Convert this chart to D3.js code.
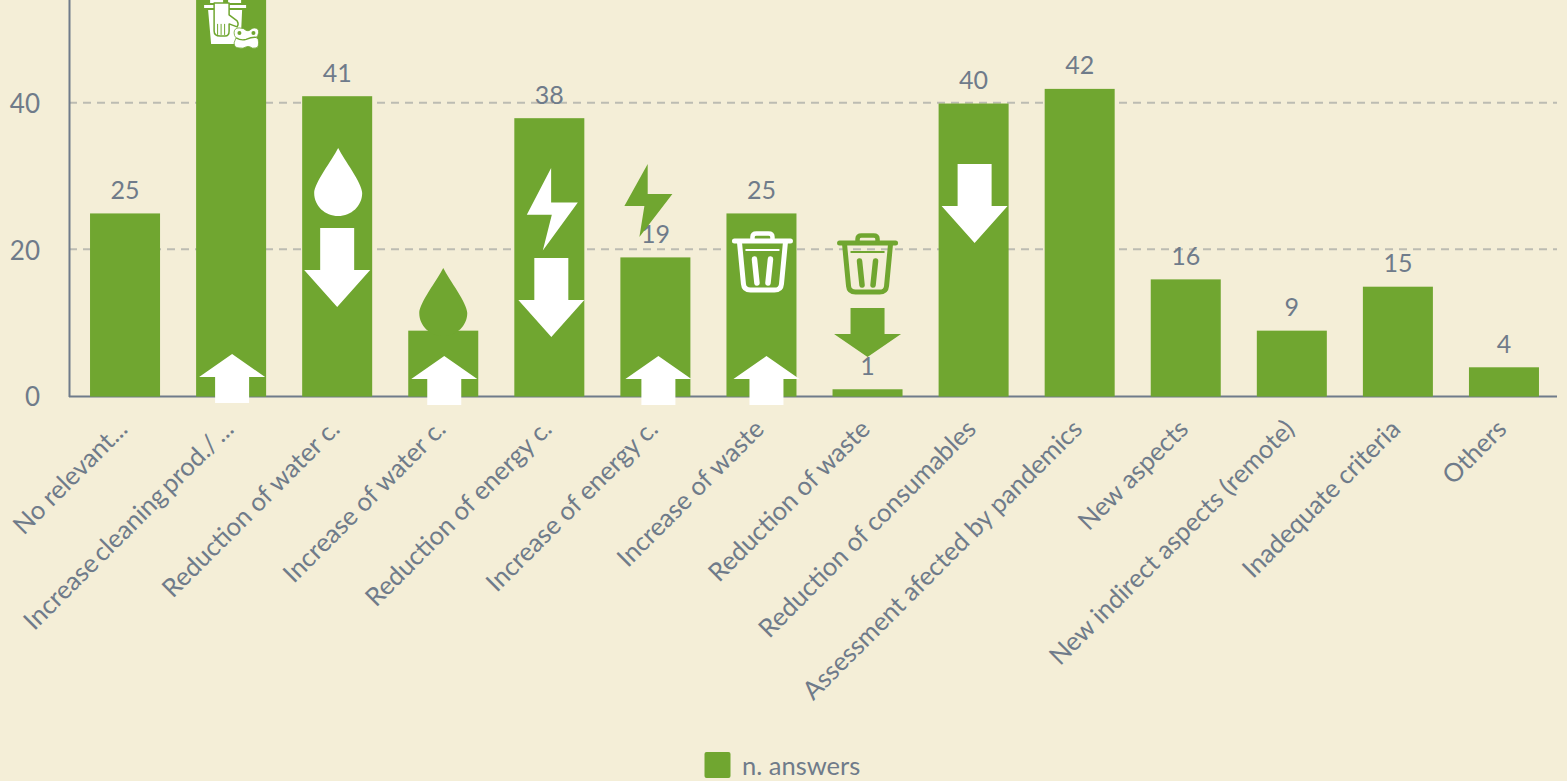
<!DOCTYPE html>
<html>
<head>
<meta charset="utf-8">
<script src="https://cdn.jsdelivr.net/npm/d3@7"></script>
<style>
html,body{margin:0;padding:0;background:#f4eed7;overflow:hidden}
svg{display:block}
text{font-family:Lato,sans-serif}
</style>
</head>
<body>
<script>
const categories = ["No relevant...","Increase cleaning prod./ ...","Reduction of water c.","Increase of water c.","Reduction of energy c.","Increase of energy c.","Increase of waste","Reduction of waste","Reduction of consumables","Assessment afected by pandemics","New aspects","New indirect aspects (remote)","Inadequate criteria","Others"];
const answers = [25,58,41,9,38,19,25,1,40,42,16,9,15,4];
const yTicks = [0,20,40];
const seriesName = "n. answers";

const W=1567,H=781, GREEN="#70a630", WHITE="#ffffff", SLATE="#6f7b8a", BG="#f4eed7";
const svg=d3.select("body").append("svg").attr("width",W).attr("height",H);
svg.append("rect").attr("width",W).attr("height",H).attr("fill",BG);

const x=d3.scaleBand().domain(categories).range([72,1557]).paddingInner(0.34).paddingOuter(0.17);
const y=d3.scaleLinear().domain([0,60]).range([396.6,-43]);
const cx=c=>x(c)+x.bandwidth()/2;

// grid
svg.append("g").attr("transform","translate(0,-0.8)").selectAll("line").data(yTicks.filter(d=>d>0)).join("line")
  .attr("x1",69).attr("x2",1557).attr("y1",d=>y(d)).attr("y2",d=>y(d))
  .attr("stroke","#bcbcb2").attr("stroke-width",2).attr("stroke-dasharray","8 6");

// axes
const yAxis=svg.append("g").attr("transform","translate(69,0)").call(d3.axisLeft(y).tickValues(yTicks).tickSize(0).tickPadding(29));
yAxis.select(".domain").attr("stroke",SLATE).attr("stroke-width",2);
yAxis.selectAll("text").attr("fill",SLATE).attr("dy","0.36em").style("font-size","26px").style("font-family","Lato,sans-serif");

const xAxis=svg.append("g").attr("transform","translate(0,396.6)").call(d3.axisBottom(x).tickSize(0).tickPadding(0));
xAxis.select(".domain").attr("d","M69,0H1557").attr("stroke",SLATE).attr("stroke-width",2);
xAxis.selectAll("text")
  .attr("fill",SLATE).style("font-size","25.6px").style("font-family","Lato,sans-serif")
  .attr("text-anchor","end").attr("dy",0).attr("y",0).attr("x",0)
  .attr("transform","translate(-3,27) rotate(-45)")
  .attr("dominant-baseline","central");

// bars
svg.append("g").selectAll("rect").data(categories).join("rect")
  .attr("x",c=>x(c)).attr("width",x.bandwidth())
  .attr("y",(c,i)=>y(answers[i])).attr("height",(c,i)=>y(0)-y(answers[i]))
  .attr("fill",GREEN);

// value labels (the tallest bar's label lies above the picture, so it is not drawn)
svg.append("g").selectAll("text").data(categories.filter((c,i)=>y(answers[i])>20)).join("text")
  .attr("x",c=>cx(c)).attr("y",c=>y(answers[categories.indexOf(c)])-14.5)
  .attr("text-anchor","middle").attr("fill",SLATE).style("font-size","25px")
  .text(c=>answers[categories.indexOf(c)]);

// pictograms (shapes in local units, placed from the band scale and baseline)
const shapes={
  up:g=>g.append("path").attr("d","M0,0L33,23H17V49H-17V23H-33Z").attr("fill",g.attr("data-c")),
  down:g=>g.append("path").attr("d","M-17,0H17V42H33L0,79L-33,42H-17Z").attr("fill",g.attr("data-c")),
  downShort:g=>g.append("path").attr("d","M-17,0H17V26H33.5L0,49L-33.5,26H-17Z").attr("fill",g.attr("data-c")),
  drop:g=>g.append("path").attr("d","M0,0C6,12 24,35 24,45C24,58 13,68 0,68C-13,68 -24,58 -24,45C-24,35 -6,12 0,0Z").attr("fill",g.attr("data-c")),
  boltWhite:g=>g.append("path").attr("d","M24.3,0L0,46.7H25L16,82.4L51,34.4H24.3Z").attr("fill",g.attr("data-c")),
  boltGreen:g=>g.append("path").attr("d","M23.3,0L0,42H20L15,73L48,30H23.3Z").attr("fill",g.attr("data-c")),
  trash:g=>{
    const c=g.attr("data-c");
    const s=g.append("g").attr("fill","none").attr("stroke",c).attr("stroke-linecap","round").attr("stroke-linejoin","round");
    s.append("path").attr("d","M-28,0H28").attr("stroke-width",5);
    s.append("path").attr("d","M-10,-1V-4Q-10,-7.5 -6,-7.5H6Q10,-7.5 10,-4V-1").attr("stroke-width",4.5);
    s.append("path").attr("d","M-23,1L-19,43Q-18.5,49 -12,49H12Q18.5,49 19,43L23,1").attr("stroke-width",5);
    s.append("path").attr("d","M-17,9H17").attr("stroke-width",2).attr("stroke-linecap","butt");
    s.append("path").attr("d","M-8,18L-5.5,42M8,18L5.5,42").attr("stroke-width",5.5);
  },
  bucket:g=>{
    const c=g.attr("data-c");
    g.append("path").attr("fill",c).attr("d","M-21,-9H-8V-4H-21ZM-3,-9H10V-4H-3ZM-27,-2H15V1H-27ZM-23,3H11L10,25L4,37H-20Z");
    g.append("path").attr("fill",c).attr("stroke",GREEN).attr("stroke-width",1.5).attr("stroke-linejoin","round")
      .attr("d","M-17,-4V24Q-17,29 -11,29H-6Q-2,29 -2,24V17L6,20Q8,17 6,14L-2,8V-4Z");
    g.append("path").attr("fill","none").attr("stroke",GREEN).attr("stroke-width",1).attr("d","M-13.5,17V28M-10,17V28M-6.5,17V28");
    g.append("path").attr("fill",c).attr("stroke",GREEN).attr("stroke-width",0.8)
      .attr("d","M3,26Q3,21 8,21Q13,21 15,23.5Q17,24.5 19,23Q21,21 23,21Q28,21 27.5,26Q27,29 25,30.5Q28,32 27.5,36Q28,40 25,41Q21,42 19,40Q17,39 15,40Q12,42 8,41Q3,41 3,36Q4,33 5,31Q3,29 3,26Z");
    g.append("path").attr("fill","none").attr("stroke",GREEN).attr("stroke-width",1.4).attr("d","M5,31Q10,34 15,32.5Q21,30 25,30.5");
    g.append("circle").attr("cx",8.3).attr("cy",26).attr("r",2).attr("fill",GREEN);
    g.append("circle").attr("cx",22.3).attr("cy",26).attr("r",2).attr("fill",GREEN);
  }
};
const pictograms=[
  [1,"up",WHITE,1,-42.5],
  [2,"down",WHITE,0,-168.5],
  [2,"drop",WHITE,1,-248.5],
  [3,"up",WHITE,1,-40.5],
  [3,"drop",GREEN,0,-128.5],
  [4,"boltWhite",WHITE,-22.5,-228.5],
  [4,"down",WHITE,2,-138.5],
  [5,"boltGreen",GREEN,-31,-232.5],
  [5,"up",WHITE,3,-40.5],
  [6,"up",WHITE,5,-40.5],
  [6,"trash",WHITE,1,-155.5],
  [7,"downShort",GREEN,0,-88.5],
  [7,"trash",GREEN,0,-153.5],
  [8,"down",WHITE,1,-232.5],
  [1,"bucket",WHITE,0,-389.7]
];
const pg=svg.append("g");
pictograms.forEach(([i,kind,col,dx,dy])=>{
  const g=pg.append("g").attr("data-c",col)
    .attr("transform",`translate(${cx(categories[i])+dx},${y(0)+dy})`);
  shapes[kind](g);
});

// legend
const leg=svg.append("g");
leg.append("rect").attr("x",704.5).attr("y",752).attr("width",26).attr("height",26).attr("rx",2).attr("fill",GREEN);
leg.append("text").attr("x",742).attr("y",775).attr("fill",SLATE).style("font-size","25.5px").text(seriesName);

// the second label's gap before the dots is tighter in the reference
xAxis.selectAll("text").filter(d=>d===categories[1]).style("word-spacing","-3px");
</script>
</body>
</html>
